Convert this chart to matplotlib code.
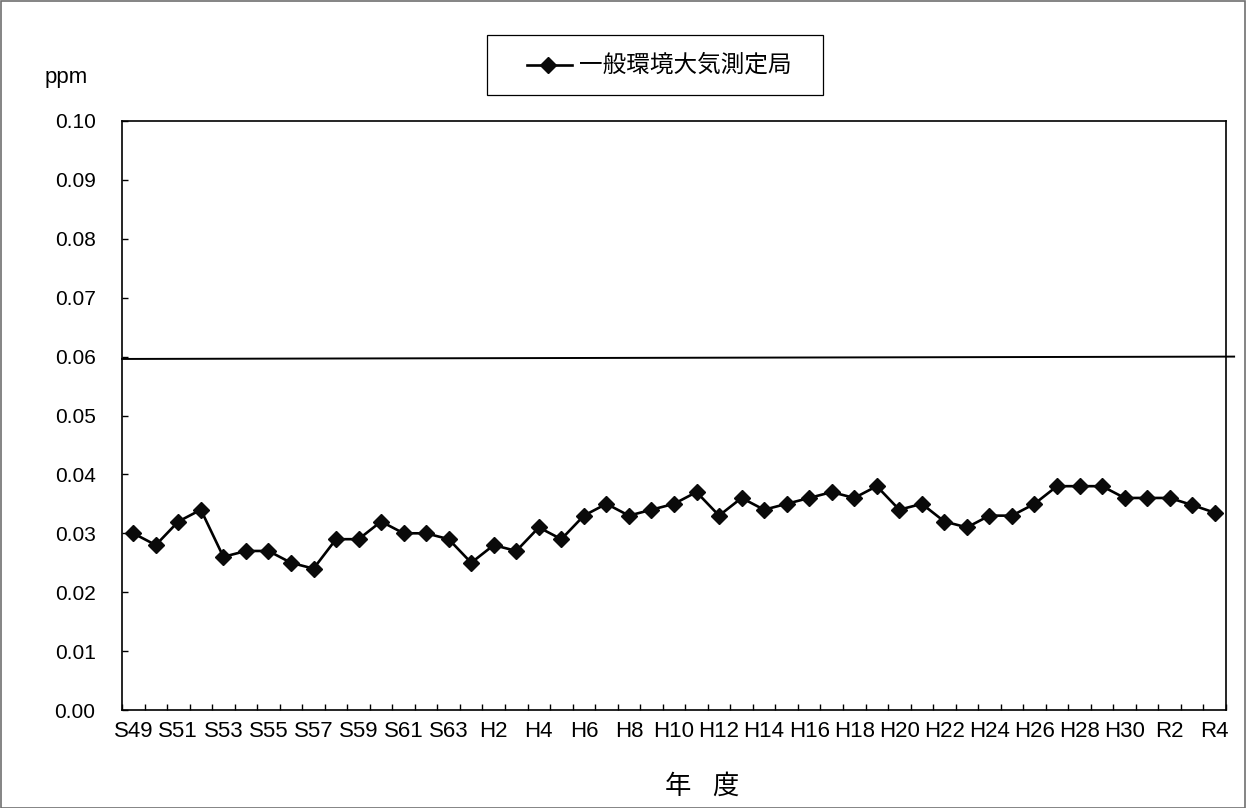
import numpy as np
import matplotlib
matplotlib.use("Agg")
import matplotlib.pyplot as plt
from matplotlib.patches import Rectangle
from matplotlib.lines import Line2D

plt.rcParams['font.family'] = ['Liberation Sans', 'Noto Sans CJK JP', 'DejaVu Sans']
JP = ["Noto Sans CJK JP", "DejaVu Sans"]

# fiscal years S49 (1974) .. R4 (2022)
years = (["S%d" % y for y in range(49, 64)]
         + ["H%d" % y for y in range(1, 31)]
         + ["R%d" % y for y in range(1, 5)])
values = [0.030, 0.028, 0.032, 0.034, 0.026, 0.027, 0.027, 0.025, 0.024, 0.029,
          0.029, 0.032, 0.030, 0.030, 0.029, 0.025, 0.028, 0.027, 0.031, 0.029,
          0.033, 0.035, 0.033, 0.034, 0.035, 0.037, 0.033, 0.036, 0.034, 0.035,
          0.036, 0.037, 0.036, 0.038, 0.034, 0.035, 0.032, 0.031, 0.033, 0.033,
          0.035, 0.038, 0.038, 0.038, 0.036, 0.036, 0.036, 0.0348, 0.0335]
standard = [0.0596, 0.0600]   # reference line, slightly tilted as drawn
y_ticks = [i / 100 for i in range(11)]
series_name = "一般環境大気測定局"

W, H = 1246, 808
fig = plt.figure(figsize=(W / 100, H / 100), dpi=100)
ax = fig.add_axes([122 / W, 98 / H, 1104 / W, 589 / H])

x = np.arange(len(years))
line_kw = dict(color="#000000", lw=1.9, marker="D", ms=8.5,
               markerfacecolor="#0a0a0a", markeredgecolor="#0a0a0a")
ax.plot(x, values, **line_kw)

# horizontal reference line running past the right edge
ax.plot([-0.5, 48.86], standard, color="#000000", lw=1.4, clip_on=False)

ax.set_xlim(-0.5, len(years) - 0.5)
ax.set_ylim(0, 0.10)
ax.set_yticks(y_ticks)
ax.set_yticklabels(["%.2f" % v for v in y_ticks], fontsize=15)

# labels every other year under the point, ticks at category boundaries
ax.set_xticks(x[::2])
ax.set_xticklabels(years[::2], fontsize=16)
ax.tick_params(axis="x", length=0, pad=8)
ax.set_xticks(np.arange(-0.5, len(years)), minor=True)
ax.tick_params(axis="x", which="minor", direction="in", length=4, width=1)
ax.tick_params(axis="y", direction="in", length=4.5, width=1, pad=19)

for s in ax.spines.values():
    s.set_linewidth(1.2)
    s.set_color("#000000")

fig.text(66 / W, 1 - 78 / H, "ppm", fontsize=16, ha="center", va="center")
fig.text(678 / W, 1 - 786 / H, "年", fontsize=19, ha="center", va="center", family=JP)
fig.text(725 / W, 1 - 786 / H, "度", fontsize=19, ha="center", va="center", family=JP)

# legend box, drawn in figure pixels
fig.patches.append(Rectangle((487 / W, 1 - 95 / H), 336 / W, 60 / H,
                             transform=fig.transFigure, fill=False,
                             edgecolor="#000000", lw=0.9))
handle = Line2D([527 / W, 572 / W], [1 - 65 / H, 1 - 65 / H], transform=fig.transFigure,
                lw=1.9, color="#000000")
fig.lines.append(handle)
fig.lines.append(Line2D([548 / W], [1 - 65 / H], transform=fig.transFigure,
                        ls="none", **{k: v for k, v in line_kw.items() if k not in ("lw",)}))
fig.text(579 / W, 1 - 65 / H, series_name, fontsize=17, ha="left", va="center", family=JP)

# outer chart border
fig.patches.append(Rectangle((0.5 / W, 0.5 / H), 1 - 1.5 / W, 1 - 1.5 / H,
                             transform=fig.transFigure, fill=False,
                             edgecolor="#6f6f6f", lw=1.2))

fig.savefig("out.png", dpi=100)
